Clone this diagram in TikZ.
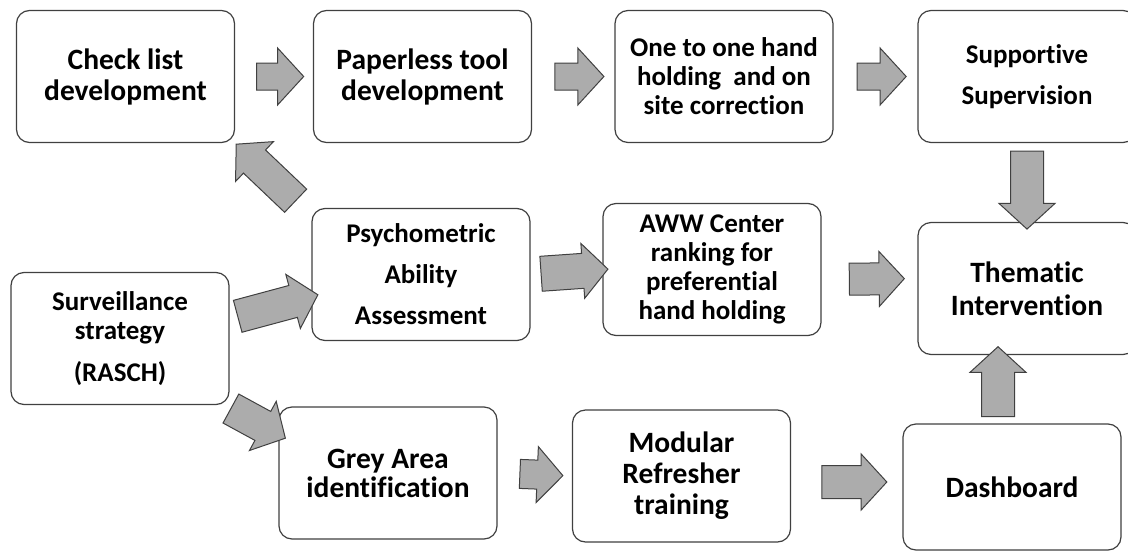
\documentclass[tikz,border=0pt]{standalone}
\usepackage{fontspec}
\setmainfont{Carlito}[Ligatures={NoCommon}]
\usetikzlibrary{shapes.arrows,calc}
\definecolor{c404040}{RGB}{64,64,64}
\definecolor{cacacac}{RGB}{172,172,172}
\tikzset{stepbox/.style={draw=c404040, line width=1.2pt, rounded corners=13pt, fill=white,
minimum width=218pt, minimum height=132pt, align=center, inner sep=0pt},
bigtext/.style={font=\bfseries\fontsize{29.5}{31}\selectfont},
smalltext/.style={font=\bfseries\fontsize{27}{29}\selectfont},
blockarrow/.style={single arrow, draw=c404040, fill=cacacac, line width=1pt, inner xsep=0pt,
inner ysep=16pt, single arrow head extend=11.5pt, single arrow tip angle=95,
midway, sloped, allow upside down},
toparrow/.style={blockarrow, inner ysep=13pt, single arrow head extend=15pt}}

\begin{document}
\begin{tikzpicture}[x=1pt,y=-1pt]
\useasboundingbox (0,0) rectangle (1128,552);
\begin{scope}[every node/.style={stepbox}]
\node[bigtext] (check) at (125.5,76.5) {Check list\\development};
\node[bigtext] (paper) at (422.5,76.5) {Paperless tool\\development};
\node[smalltext] (one) at (724,76.5) {One to one hand\\holding\ \ and on\\site correction};
\node[smalltext] (sup) at (1027,76.5) {Supportive\\[12pt]Supervision};
\node[smalltext] (psych) at (421,274.5) {Psychometric\\[12pt]Ability\\[12pt]Assessment};
\node[smalltext] (aww) at (712,269.5) {AWW Center\\ranking for\\preferential\\hand holding};
\node[bigtext] (them) at (1027,288.5) {Thematic\\[2pt]Intervention};
\node[smalltext] (surv) at (120,338.5) {Surveillance\\strategy\\[13pt](RASCH)};
\node[bigtext] (grey) at (388,473) {Grey Area\\[-2pt]identification};
\node[bigtext] (mod) at (681.5,476) {Modular\\Refresher\\training};
\node[bigtext, minimum height=126pt] (dash) at (1012,487) {Dashboard};
\end{scope}

% top row
\path (check.east) -- (paper.west) node[toparrow, minimum height=47pt] {};
\path (paper.east) -- (one.west) node[toparrow, minimum height=49pt] {};
\path (one.east) -- (sup.west) node[toparrow, minimum height=49pt] {};
\path (sup.south) -- (them.north) node[blockarrow, minimum height=78pt] {};

% middle
\path ([shift={(-4pt,-4pt)}]psych.north west) -- (check.south east) node[blockarrow, minimum height=82pt, inner ysep=15.5pt] {};
\path ([yshift=20pt]surv.east) -- ([yshift=-22pt]psych.west) node[blockarrow, minimum height=83pt] {};
\path (psych.east) -- (aww.west) node[blockarrow, minimum height=67pt, inner ysep=17pt, single arrow head extend=10pt] {};
\path ([yshift=-10pt]aww.east) -- ([yshift=10pt]them.west) node[blockarrow, minimum height=55pt, inner ysep=15.5pt] {};

% bottom
\coordinate (dashtop) at ([xshift=-14pt]dash.north);
\path ([xshift=-5pt]surv.south east) -- ([yshift=-28pt]grey.north west) node[blockarrow, minimum height=62pt] {};
\path (grey.east) -- (mod.west) node[blockarrow, minimum height=43pt, inner ysep=14pt, single arrow head extend=13.5pt] {};
\path ([yshift=-6pt]mod.east) -- ([yshift=5pt]dash.west) node[blockarrow, minimum height=65pt] {};
\path (dashtop) -- (dashtop |- them.south) node[blockarrow, minimum height=70pt] {};
\end{tikzpicture}
\end{document}
